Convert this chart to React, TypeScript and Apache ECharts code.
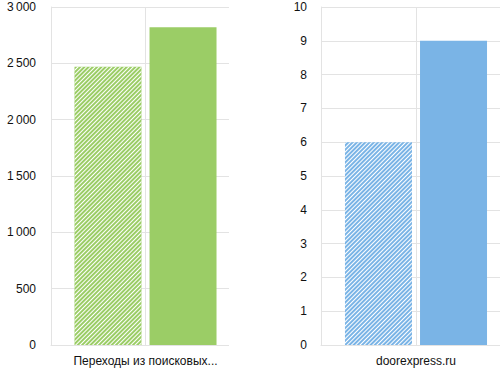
import React, { useEffect, useRef } from "react";
import * as echarts from "echarts";

const leftCategories = ["Переходы из поисковых..."];
const leftPrev = [2470];
const leftCurr = [2820];
const leftTicks = ["0", "500", "1\u2009000", "1\u2009500", "2\u2009000", "2\u2009500", "3\u2009000"];

const rightCategories = ["doorexpress.ru"];
const rightPrev = [6];
const rightCurr = [9];
const rightTicks = ["0", "1", "2", "3", "4", "5", "6", "7", "8", "9", "10"];

const GREEN = "#9bcd66";
const BLUE = "#7ab4e6";
const GRID = "#e3e3e3";
const FONT = "Liberation Sans";

const hatch = {
  symbol: "rect",
  color: "#ffffff",
  dashArrayX: [1, 0],
  dashArrayY: [1, 1.6],
  rotation: -Math.PI / 4,
};

export default function App() {
  const ref = useRef<HTMLDivElement>(null);
  useEffect(() => {
    const chart = echarts.init(ref.current!, null, { renderer: "svg" });
    const yAxisCommon = {
      type: "value",
      axisLine: { show: true, lineStyle: { color: GRID } },
      axisTick: { show: false },
      splitLine: { show: true, lineStyle: { color: GRID } },
      axisLabel: { color: "#111", fontFamily: FONT, fontSize: 12, margin: 15 },
    };
    const xAxisCommon = {
      type: "category",
      axisLine: { show: true, lineStyle: { color: GRID } },
      axisTick: { show: false },
      axisLabel: { color: "#111", fontFamily: FONT, fontSize: 12, margin: 10 },
    };
    const centerLine = (xi: number) => ({
      type: "line",
      xAxisIndex: xi,
      yAxisIndex: xi,
      data: [null],
      symbol: "none",
      silent: true,
      markLine: {
        silent: true,
        symbol: "none",
        label: { show: false },
        lineStyle: { color: GRID, type: "solid", width: 1 },
        data: [{ xAxis: 0 }],
      },
    });
    chart.setOption({
      animation: false,
      grid: [
        { left: 51, width: 189, top: 7, bottom: 30 },
        { left: 321, width: 190, top: 7, bottom: 30 },
      ],
      xAxis: [
        { ...xAxisCommon, gridIndex: 0, data: leftCategories },
        { ...xAxisCommon, gridIndex: 1, data: rightCategories },
      ],
      yAxis: [
        {
          ...yAxisCommon,
          gridIndex: 0,
          min: 0,
          max: 3000,
          interval: 500,
          axisLabel: { ...yAxisCommon.axisLabel, formatter: (_v: number, i: number) => leftTicks[i] },
        },
        {
          ...yAxisCommon,
          gridIndex: 1,
          min: 0,
          max: 10,
          interval: 1,
          axisLabel: { ...yAxisCommon.axisLabel, margin: 14, formatter: (_v: number, i: number) => rightTicks[i] },
        },
      ],
      series: [
        centerLine(0),
        centerLine(1),
        {
          type: "bar",
          xAxisIndex: 0,
          yAxisIndex: 0,
          data: leftPrev,
          barWidth: 67,
          barGap: "12%",
          itemStyle: { color: GREEN, decal: hatch },
        },
        {
          type: "bar",
          xAxisIndex: 0,
          yAxisIndex: 0,
          data: leftCurr,
          barWidth: 67,
          barGap: "12%",
          itemStyle: { color: GREEN },
        },
        {
          type: "bar",
          xAxisIndex: 1,
          yAxisIndex: 1,
          data: rightPrev,
          barWidth: 67,
          barGap: "12%",
          itemStyle: { color: BLUE, decal: hatch },
        },
        {
          type: "bar",
          xAxisIndex: 1,
          yAxisIndex: 1,
          data: rightCurr,
          barWidth: 67,
          barGap: "12%",
          itemStyle: { color: BLUE },
        },
      ],
      graphic: [
        {
          type: "rect",
          z: 100,
          shape: { x: 229, y: 0, width: 58, height: 350 },
          style: { fill: "#fff" },
        },
      ],
    });
    return () => chart.dispose();
  }, []);
  return (
    <div style={{ position: "absolute", left: 0, top: 0, width: 500, height: 375, overflow: "hidden" }}>
      <div ref={ref} style={{ width: 511, height: 375 }} />
    </div>
  );
}
